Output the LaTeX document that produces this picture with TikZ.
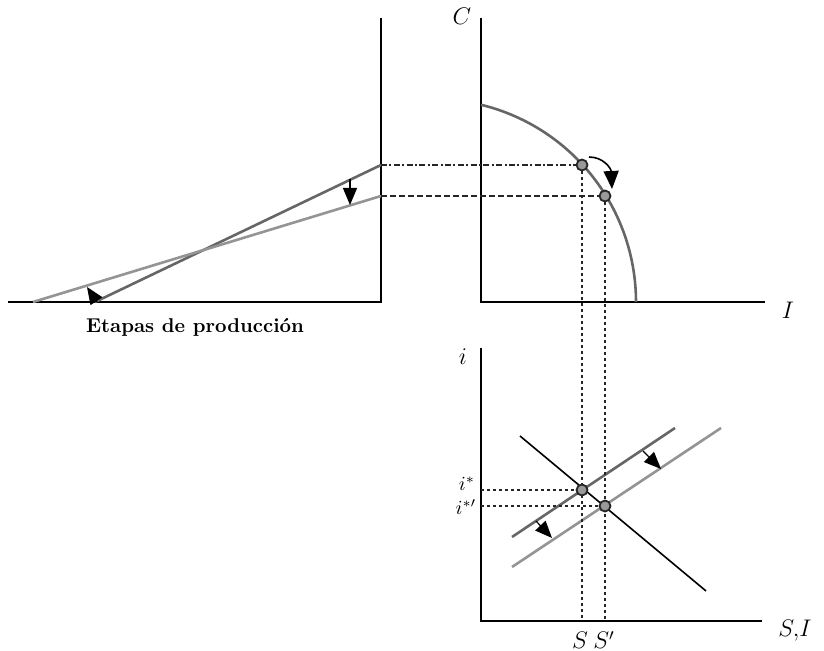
\documentclass[tikz,border=0pt]{standalone}
\usepackage{tikz}
\usetikzlibrary{arrows.meta, calc}

\begin{document}
\begin{tikzpicture}[
    x=0.5pt, y=-0.5pt,
    axis/.style={line width=1.1pt, black},
    curvedark/.style={line width=1.3pt, black!60},
    curvelight/.style={line width=1.3pt, black!42},
    guide/.style={line width=0.8pt, black!85, dash pattern=on 1.5pt off 1.5pt},
    guidedash/.style={line width=0.8pt, black!85, dash pattern=on 3pt off 1.5pt},
    guidedot/.style={line width=0.8pt, black!85, dash pattern=on 3pt off 1.2pt on 1pt off 1.2pt},
    shiftarrow/.style={line width=0.6pt, -{Triangle[length=8.5pt, width=7pt]}},
    eqdot/.style={circle, draw=black!85, line width=0.9pt, fill=black!40,
                  inner sep=0pt, minimum size=5.5pt},
    lbl/.style={inner sep=1pt, font=\large}
]
    \useasboundingbox (0,0) rectangle (824,651);

    % Etapas de produccion
    \coordinate (Lorig) at (381,302);
    \draw[axis] (381,18) -- (Lorig) -- (8,302);
    \coordinate (Ltop) at (381,165);
    \coordinate (Lbot) at (381,196);
    \draw[curvedark] (95,302) -- (Ltop);
    \draw[curvelight] (33,302) -- (Lbot);
    \draw[shiftarrow] (350,179) -- (350,205);
    \draw[shiftarrow] (97,302) -- (87,287);
    \node[inner sep=1pt] (etapas) at (195,327) {\textbf{Etapas de producci\'on}};

    % Frontera C - I
    \coordinate (Corig) at (481,302);
    \draw[axis] (481,18) -- (Corig) -- (765,302);
    \node[lbl] (Clab) at (462,16) {$C$};
    \node[lbl] (Ilab) at (788,310) {$I$};
    \draw[curvedark] plot[domain=0:76.3, samples=50, smooth]
        ({433+203*cos(\x)}, {302-203*sin(\x)});
    \draw[line width=0.8pt, -{Triangle[length=9pt, width=7.5pt]}]
        (589,157) .. controls (603,157) and (611,168) .. (612,189);

    % Mercado de fondos prestables
    \coordinate (Forig) at (481,621);
    \draw[axis] (481,348) -- (Forig) -- (762,621);
    \node[lbl] (ilab) at (463,357) {$i$};
    \node[lbl] (SIlab) at (795,631) {$S,\!I$};
    \draw[line width=0.8pt, black] (520,436) -- (706,591);
    \draw[curvedark] (512,537) -- (675,428);
    \draw[curvelight] (512,567) -- (721,428);
    \draw[shiftarrow] (643,451) -- (661,469);
    \draw[shiftarrow] (536,521) -- (552,538);

    % equilibrios
    \coordinate (A) at (582,165);
    \coordinate (B) at (605,196);
    \coordinate (E1) at (582,490);
    \coordinate (E2) at (605,506);
    \draw[guidedot] (Ltop) -- (A);
    \draw[guidedash] (Lbot) -- (B);
    \draw[guide] (A) -- (A |- Forig);
    \draw[guide] (B) -- (B |- Forig);
    \draw[guide] (Forig |- E1) -- (E1);
    \draw[guide] (Forig |- E2) -- (E2);
    \node[eqdot] (dotA) at (A) {};
    \node[eqdot] (dotB) at (B) {};
    \node[eqdot] (dotE1) at (E1) {};
    \node[eqdot] (dotE2) at (E2) {};
    \node[inner sep=0pt] (istar) at (467,484) {$i^*$};
    \node[inner sep=0pt] (istarp) at (466,507) {$i^{*\prime}$};
    \node[lbl] (Slab) at (580,640) {$S$};
    \node[lbl] (Splab) at (604,640) {$S'$};
\end{tikzpicture}
\end{document}
